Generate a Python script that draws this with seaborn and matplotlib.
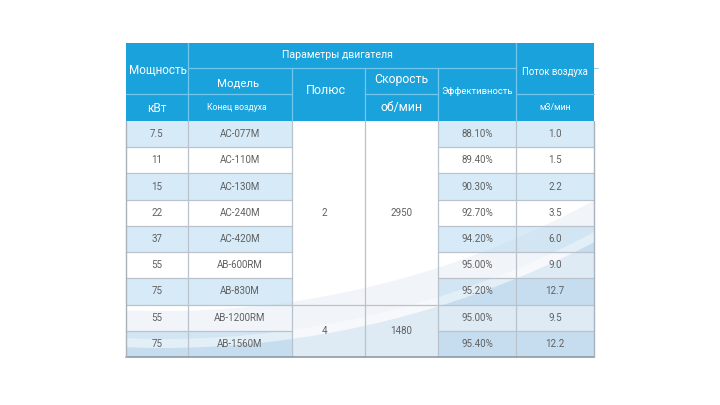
import matplotlib
matplotlib.use("Agg")
import matplotlib.pyplot as plt
from matplotlib.patches import Wedge, Rectangle
import seaborn as sns

# ---------------- data ----------------
power = ['7.5', '11', '15', '22', '37', '55', '75', '55', '75']
models = ['AC-077M', 'AC-110M', 'AC-130M', 'AC-240M', 'AC-420M',
          'AB-600RM', 'AB-830M', 'AB-1200RM', 'AB-1560M']
poles = ['2', '4']
speeds = ['2950', '1480']
group_rows = [7, 2]
efficiency = ['88.10%', '89.40%', '90.30%', '92.70%', '94.20%',
              '95.00%', '95.20%', '95.00%', '95.40%']
airflow = ['1.0', '1.5', '2.2', '3.5', '6.0', '9.0', '12.7', '9.5', '12.2']

h_power = 'Мощность'
h_params = 'Параметры двигателя'
h_model = 'Модель'
h_pole = 'Полюс'
h_speed = 'Скорость'
h_eff = 'Эффективность'
h_flow = 'Поток воздуха'
u_power = 'кВт'
u_model = 'Конец воздуха'
u_speed = 'об/мин'
u_flow = 'м3/мин'

# ---------------- style ----------------
sns.set_theme(style='white')
plt.rcParams['font.family'] = ['Roboto', 'DejaVu Sans']

HEAD = '#1AA2DC'
HLINE = '#73C6EC'
LIGHT = '#D7EAF7'
WHITE = '#FFFFFF'
GRID = '#BAC3CB'
TXT = '#606060'

fig = plt.figure(figsize=(7.2, 4.05), dpi=100)
ax = fig.add_axes([0, 0, 1, 1])
ax.set_xlim(0, 720)
ax.set_ylim(405, 0)
ax.axis('off')

xe = [126, 188, 292, 365, 438, 516, 594]
hy = [43, 68, 94, 121]
n = len(power)
bottom_y = 357
rh = (bottom_y - hy[3]) / n
ry = [hy[3] + i * rh for i in range(n + 1)]

def cell(x0, x1, y0, y1, color, z=1):
    ax.bar(x0, y1 - y0, width=x1 - x0, bottom=y0, align='edge',
           color=color, edgecolor='none', linewidth=0, zorder=z)

# header background
cell(xe[0], xe[-1], hy[0], hy[3], HEAD)

# body cells
body_cols = [(0, power), (1, models), (4, efficiency), (5, airflow)]
for i in range(n):
    col = LIGHT if i % 2 == 0 else WHITE
    if i == 7:
        col = WHITE
    if i == 8:
        col = LIGHT
    for c, _ in body_cols:
        cell(xe[c], xe[c + 1], ry[i], ry[i + 1], col)
start = 0
for g, cnt in enumerate(group_rows):
    for c in (2, 3):
        cell(xe[c], xe[c + 1], ry[start], ry[start + cnt], WHITE)
    start += cnt

# decorative swoosh over the body
body_clip = Rectangle((xe[0], hy[3]), xe[-1] - xe[0], bottom_y - hy[3],
                      transform=ax.transData)
cx, cy, R = 163, -584, 895
for r0, w, colr, a in [(R, 2000, '#C5D8EA', 0.24),
                       (R + 28, 9, '#FFFFFF', 0.40),
                       (R + 37, 2000, '#9EC4E3', 0.22)]:
    wd = Wedge((cx, cy), r0 + w, 0, 360, width=w, facecolor=colr,
               edgecolor='none', alpha=a, zorder=2)
    ax.add_patch(wd)
    wd.set_clip_path(body_clip)

# body grid lines
for i in range(1, n):
    y = ry[i]
    for c, _ in body_cols:
        ax.plot([xe[c], xe[c + 1]], [y, y], color=GRID, lw=0.9, zorder=3)
    if i == group_rows[0]:
        ax.plot([xe[2], xe[4]], [y, y], color=GRID, lw=0.9, zorder=3)
for x in xe[1:-1]:
    ax.plot([x, x], [hy[3], bottom_y], color=GRID, lw=0.9, zorder=3)
ax.plot([xe[0], xe[-1]], [bottom_y, bottom_y], color='#8E9AA5', lw=1.2, zorder=3)
for x in (xe[0], xe[-1]):
    ax.plot([x, x], [hy[3], bottom_y], color='#A7B2BC', lw=1.0, zorder=3)

# header lines
hl = dict(color=HLINE, lw=0.9, zorder=3)
ax.plot([xe[1], xe[1]], [hy[0], hy[3]], **hl)
ax.plot([xe[5], xe[5]], [hy[0], hy[3]], **hl)
for x in (xe[2], xe[3], xe[4]):
    ax.plot([x, x], [hy[1], hy[3]], **hl)
ax.plot([xe[1], xe[5]], [hy[1], hy[1]], **hl)
for c in (0, 1, 3, 5):
    ax.plot([xe[c], xe[c + 1]], [hy[2], hy[2]], **hl)
ax.plot([xe[5], xe[6] + 4], [hy[1], hy[1]], color=HLINE, lw=0.6, zorder=0)

def mid(c):
    return (xe[c] + xe[c + 1]) / 2

ht = dict(color='white', ha='center', va='center', zorder=4)
ax.text(mid(0) + 1, 71, h_power, fontsize=8.4, **ht)
ax.text(mid(0), 108, u_power, fontsize=8.6, **ht)
ax.text(337, 55, h_params, fontsize=7.6, **ht)
ax.text(mid(1) - 2, 83, h_model, fontsize=8.2, **ht)
ax.text(mid(1) - 3, 108, u_model, fontsize=6.2, **ht)
ax.text(mid(2) - 3, 90, h_pole, fontsize=9, **ht)
ax.text(mid(3), 80, h_speed, fontsize=8.8, **ht)
ax.text(mid(3), 107, u_speed, fontsize=8.8, **ht)
ax.text(mid(4), 91, h_eff, fontsize=6.8, **ht)
ax.text(mid(5), 72, h_flow, fontsize=6.9, **ht)
ax.text(mid(5), 108, u_flow, fontsize=6.4, **ht)

bt = dict(color=TXT, ha='center', va='center', fontsize=7, zorder=4)
for c, vals in body_cols:
    for i, v in enumerate(vals):
        ax.text(mid(c), (ry[i] + ry[i + 1]) / 2, v, **bt)
start = 0
for g, cnt in enumerate(group_rows):
    yc = (ry[start] + ry[start + cnt]) / 2
    ax.text(mid(2) - 4, yc, poles[g], **bt)
    ax.text(mid(3), yc, speeds[g], **bt)
    start += cnt

fig.savefig('out.png', dpi=100)
